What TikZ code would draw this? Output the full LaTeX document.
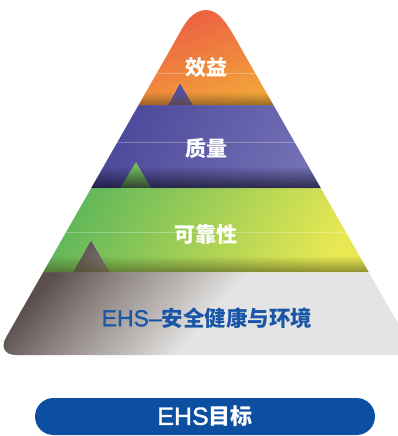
\documentclass[tikz,border=0pt]{standalone}
\usepackage{fontspec}
\newfontfamily\cjk{Noto Sans CJK SC}
\newfontfamily\latin[FakeBold=1.2]{Liberation Sans}
\usetikzlibrary{fadings}
\tikzfading[name=fadeup, top color=transparent!100, bottom color=transparent!0]
\definecolor{orTop}{HTML}{EB5544}
\definecolor{orBot}{HTML}{F2A63A}
\definecolor{puA}{HTML}{4A4699}
\definecolor{puB}{HTML}{7370B5}
\definecolor{grA}{HTML}{5AB55A}
\definecolor{grB}{HTML}{E8E852}
\definecolor{gyDark}{HTML}{5A4F4C}
\definecolor{gyMed}{HTML}{8A817E}
\definecolor{gyMid}{HTML}{C8C4C2}
\definecolor{gyLight}{HTML}{E3E4E3}
\definecolor{ehsBlue}{HTML}{1A56A7}
\definecolor{pillBlue}{HTML}{0C4EA0}
\tikzset{
  lbl/.style={font=\cjk\bfseries\fontsize{21}{21}\selectfont, text=white, inner sep=0pt},
  shadowstrip/.style={path fading=fadeup},
  hiline/.style={draw=white, opacity=0.28, line width=0.6pt},
  pill/.style={fill=pillBlue, rounded corners=18.5pt, minimum width=340pt, minimum height=37pt, inner sep=0pt,
    text=white}
}
\begin{document}
\begin{tikzpicture}[x=1pt,y=-1pt]
\useasboundingbox (0,0) rectangle (398,436);
\begin{scope}
\clip (206,10) .. controls (220,10) and (228,25) .. (242,50)
  [rounded corners=20pt] -- (416,355) -- (-4,355) -- (170,50)
  [sharp corners] .. controls (184,25) and (192,10) .. (206,10) -- cycle;
% gray base band
\begin{scope}
\clip (0,272) -- (73,272) -- (91,240) -- (110,272) -- (398,272) -- (398,360) -- (0,360) -- cycle;
\begin{scope}[transform canvas={rotate around={-41:(0,0)}}]
\fill[gyDark] (140,-120) rectangle (220.5,320);
\shade[left color=gyDark, right color=gyMed] (220,-120) rectangle (265.5,320);
\shade[left color=gyMed, right color=gyMid] (265,-120) rectangle (335.5,320);
\shade[left color=gyMid, right color=gyLight] (335,-120) rectangle (365.5,320);
\fill[gyLight] (365,-120) rectangle (580,320);
\end{scope}
\end{scope}
% green band
\shade[shading=axis, top color=grA, bottom color=grB, shading angle=60]
  (35,188) -- (120,188) -- (136,162) -- (151,188) -- (375,188) -- (375,272) -- (110,272) -- (91,240) -- (73,272) -- (35,272) -- cycle;
\fill[black!70!grB, opacity=0.55, shadowstrip] (35,256) rectangle (375,272);
% purple band
\shade[shading=axis, top color=puA, bottom color=puB, shading angle=60]
  (85,105) -- (168,105) -- (180,83) -- (193,105) -- (330,105) -- (330,188) -- (151,188) -- (136,162) -- (120,188) -- (85,188) -- cycle;
\fill[black!80!puA, opacity=0.7, shadowstrip] (85,166) rectangle (330,188);
% orange band
\shade[shading=axis, top color=orTop, bottom color=orBot, shading angle=20]
  (130,0) -- (282,0) -- (282,105) -- (193,105) -- (180,83) -- (168,105) -- (130,105) -- cycle;
\fill[black!60!orBot, opacity=0.6, shadowstrip] (130,92) rectangle (282,105);
% highlight lines
\draw[hiline] (130,73) -- (282,73);
\draw[hiline] (85,142) -- (330,142);
\draw[hiline] (35,232) -- (375,232);
\end{scope}
\node[lbl] (benefit) at (206,68) {效益};
\node[lbl] (quality) at (206,148) {质量};
\node[lbl] (reliab) at (206,235) {可靠性};
\node[lbl, text=ehsBlue] (ehs) at (207,318) {{\latin\mdseries\fontsize{23}{23}\selectfont EHS–}{\fontsize{21.5}{21.5}\selectfont 安全健康与环境}};
\node[pill] (goal) at (205,416.5) {{\latin\fontsize{25}{25}\selectfont EHS}{\cjk\bfseries\fontsize{22}{22}\selectfont 目标}};
\end{tikzpicture}
\end{document}
